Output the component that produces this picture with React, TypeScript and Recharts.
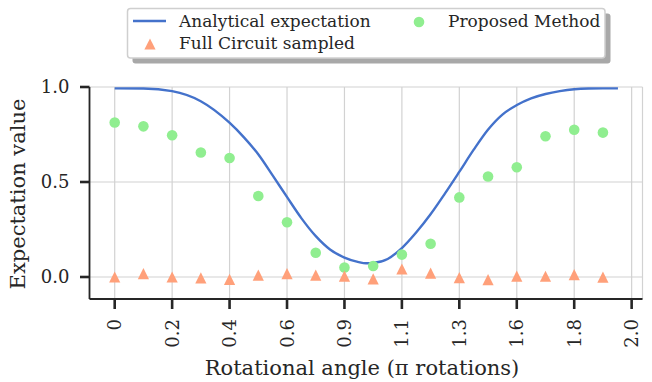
import React from 'react';
import { ComposedChart, Line, Scatter, XAxis, YAxis, CartesianGrid } from 'recharts';

// ---- data ----
const CURVE_ANGLES = [0, 0.111, 0.222, 0.333, 0.444, 0.5, 0.556, 0.611, 0.667, 0.722, 0.778, 0.833, 0.889, 0.944, 0.972, 1.0, 1.056, 1.111, 1.167, 1.222, 1.278, 1.333, 1.389, 1.444, 1.5, 1.556, 1.611, 1.667, 1.722, 1.778, 1.833, 1.889, 1.947];
const CURVE_VALUES = [0.993, 0.992, 0.978, 0.925, 0.812, 0.735, 0.645, 0.535, 0.42, 0.31, 0.215, 0.145, 0.102, 0.078, 0.072, 0.074, 0.095, 0.152, 0.235, 0.33, 0.44, 0.553, 0.67, 0.775, 0.855, 0.905, 0.94, 0.963, 0.978, 0.988, 0.992, 0.993, 0.993];

const POINT_ANGLES = [0, 0.1111, 0.2222, 0.3333, 0.4444, 0.5556, 0.6667, 0.7778, 0.8889, 1.0, 1.1111, 1.2222, 1.3333, 1.4444, 1.5556, 1.6667, 1.7778, 1.8889];
const PROPOSED = [0.813, 0.793, 0.746, 0.655, 0.626, 0.426, 0.288, 0.128, 0.05, 0.058, 0.118, 0.175, 0.419, 0.529, 0.578, 0.741, 0.775, 0.76];
const FULL_CIRCUIT = [0.0, 0.018, 0.0, -0.005, -0.012, 0.01, 0.018, 0.01, 0.005, -0.01, 0.042, 0.02, -0.003, -0.014, 0.005, 0.004, 0.013, -0.001];

const X_TICKS = [0, 0.2222, 0.4444, 0.6667, 0.8889, 1.1111, 1.3333, 1.5556, 1.7778, 2.0];
const X_TICK_LABELS = ['0', '0.2', '0.4', '0.6', '0.9', '1.1', '1.3', '1.6', '1.8', '2.0'];
const Y_TICKS = [0, 0.5, 1.0];
const Y_TICK_LABELS = ['0.0', '0.5', '1.0'];

const X_LABEL = 'Rotational angle (\u03c0 rotations)';
const Y_LABEL = 'Expectation value';
const SERIES_NAMES = ['Analytical expectation', 'Proposed Method', 'Full Circuit sampled'];

// ---- styles ----
const FONT = '"DejaVu Serif", serif';
const TEXT = '#262626';
const BLUE = '#4472CB';
const GREEN = '#90EE90';
const ORANGE = '#FFA07A';

const curveData = CURVE_ANGLES.map((x, i) => ({ x, y: CURVE_VALUES[i] }));
const proposedData = POINT_ANGLES.map((x, i) => ({ x, y: PROPOSED[i] }));
const fullData = POINT_ANGLES.map((x, i) => ({ x, y: FULL_CIRCUIT[i] }));

function labelFor(values: number[], labels: string[], v: number) {
  let best = 0;
  for (let i = 0; i < values.length; i++) {
    if (Math.abs(values[i] - v) < Math.abs(values[best] - v)) best = i;
  }
  return labels[best];
}

function XTick(props: any) {
  const { x, y, payload } = props;
  return (
    <text
      transform={`translate(${x},${y + 10}) rotate(-90)`}
      textAnchor="end"
      dy="0.36em"
      fontSize={18}
      fontFamily={FONT}
      fill={TEXT}
    >
      {labelFor(X_TICKS, X_TICK_LABELS, payload.value)}
    </text>
  );
}

function YTick(props: any) {
  const { x, y, payload } = props;
  return (
    <text x={x} y={y} dy="0.36em" textAnchor="end" fontSize={18} fontFamily={FONT} fill={TEXT}>
      {labelFor(Y_TICKS, Y_TICK_LABELS, payload.value)}
    </text>
  );
}

const Circle = (p: any) => <circle cx={p.cx} cy={p.cy} r={5.3} fill={GREEN} />;
const Tri = (p: any) => {
  const s = 5.6;
  return (
    <polygon
      points={`${p.cx},${p.cy - s} ${p.cx - s},${p.cy + s} ${p.cx + s},${p.cy + s}`}
      fill={ORANGE}
    />
  );
};

function LegendOverlay() {
  const s = 5.6;
  return (
    <svg width={652} height={382} style={{ position: 'absolute', left: 0, top: 0, pointerEvents: 'none' }}>
      <rect x={132.5} y={13.5} width={478} height={50} rx={3} fill="#a8a8a8" />
      <rect x={127.5} y={8.5} width={477.5} height={49.5} rx={3} fill="#ffffff" stroke="#cfcfcf" strokeWidth={1.5} />
      <line x1={133} x2={166} y1={21} y2={21} stroke={BLUE} strokeWidth={2.6} />
      <text x={179} y={27.3} fontSize={17} fontFamily={FONT} fill={TEXT}>{SERIES_NAMES[0]}</text>
      <circle cx={419} cy={22} r={5.3} fill={GREEN} />
      <text x={448} y={27.3} fontSize={17} fontFamily={FONT} fill={TEXT}>{SERIES_NAMES[1]}</text>
      <polygon points={`150,${44 - s} ${150 - s},${44 + s} ${150 + s},${44 + s}`} fill={ORANGE} />
      <text x={179} y={49.3} fontSize={17} fontFamily={FONT} fill={TEXT}>{SERIES_NAMES[2]}</text>
      <text x={362} y={375} textAnchor="middle" fontSize={21} fontFamily={FONT} fill={TEXT}>{X_LABEL}</text>
      <text transform="translate(25,194) rotate(-90)" textAnchor="middle" fontSize={21} fontFamily={FONT} fill={TEXT}>{Y_LABEL}</text>
    </svg>
  );
}

export default function App() {
  return (
    <div style={{ position: 'absolute', left: 0, top: 0, width: 652, height: 382, background: '#fff' }}>
      <ComposedChart width={652} height={382} margin={{ top: 87, right: 9.5, bottom: 0, left: 0 }}>
        <CartesianGrid xAxisId="b" yAxisId="l" stroke="#d2d2d2" strokeWidth={1.2} />
        <XAxis
          xAxisId="b"
          dataKey="x"
          type="number"
          domain={[-0.0975, 2.042]}
          allowDataOverflow
          ticks={X_TICKS}
          interval={0}
          height={83}
          tickSize={10}
          tickMargin={0}
          axisLine={{ stroke: TEXT, strokeWidth: 1.8 }}
          tickLine={{ stroke: TEXT, strokeWidth: 2.6 }}
          tick={<XTick />}
        />
        <XAxis
          xAxisId="t"
          orientation="top"
          type="number"
          domain={[-0.0975, 2.042]}
          allowDataOverflow
          ticks={X_TICKS}
          interval={0}
          height={0}
          tickSize={11}
          axisLine={false}
          tickLine={{ stroke: TEXT, strokeWidth: 2.6 }}
          tick={false}
        />
        <YAxis
          yAxisId="l"
          type="number"
          domain={[-0.1158, 1.0]}
          allowDataOverflow
          ticks={Y_TICKS}
          interval={0}
          width={89.5}
          tickSize={9.5}
          tickMargin={10.5}
          axisLine={{ stroke: TEXT, strokeWidth: 1.8 }}
          tickLine={{ stroke: TEXT, strokeWidth: 2.6 }}
          tick={<YTick />}
        />
        <YAxis
          yAxisId="r"
          orientation="right"
          type="number"
          domain={[-0.1158, 1.0]}
          allowDataOverflow
          ticks={Y_TICKS}
          interval={0}
          width={0}
          tickSize={9.5}
          axisLine={false}
          tickLine={{ stroke: TEXT, strokeWidth: 2.6 }}
          tick={false}
        />
        <Line
          xAxisId="b"
          yAxisId="l"
          data={curveData}
          dataKey="y"
          type="monotone"
          stroke={BLUE}
          strokeWidth={2.4}
          dot={false}
          isAnimationActive={false}
        />
        <Scatter xAxisId="b" yAxisId="l" data={proposedData} dataKey="y" shape={Circle} isAnimationActive={false} />
        <Scatter xAxisId="b" yAxisId="l" data={fullData} dataKey="y" shape={Tri} isAnimationActive={false} />
      </ComposedChart>
      <LegendOverlay />
    </div>
  );
}
